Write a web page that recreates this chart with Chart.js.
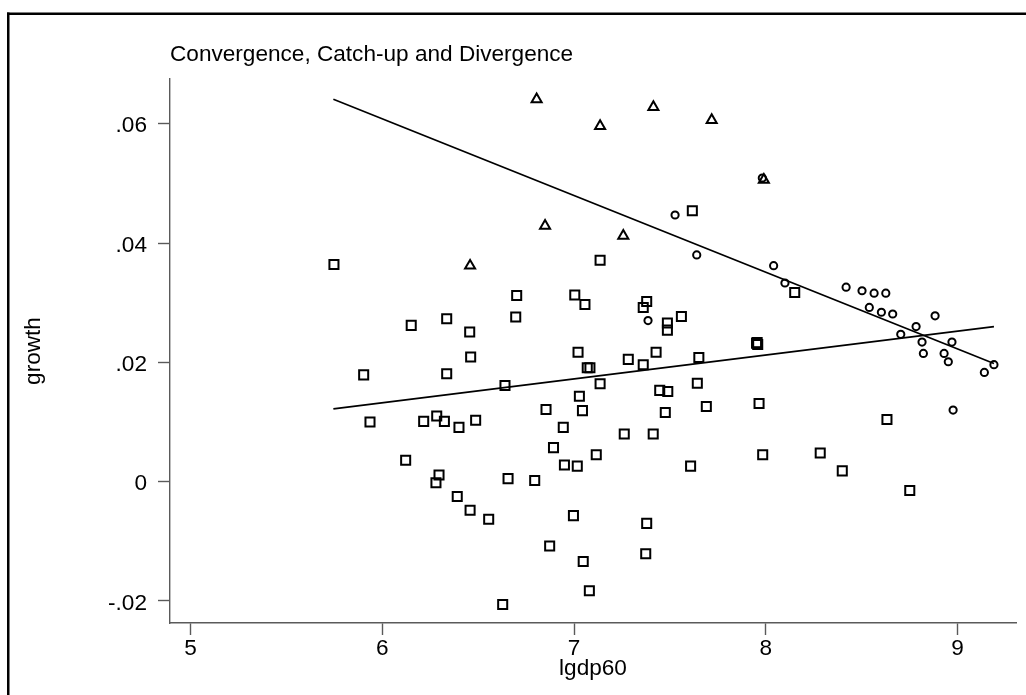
<!DOCTYPE html>
<html><head><meta charset="utf-8">
<script src="https://cdn.jsdelivr.net/npm/chart.js@4.4.1/dist/chart.umd.min.js"></script>
<style>html,body{margin:0;padding:0;background:#fff;overflow:hidden}canvas{display:block}</style>
</head><body>
<canvas id="c" width="1026" height="695"></canvas>
<script>
const chartTitle = 'Convergence, Catch-up and Divergence';
const xTitle = 'lgdp60';
const yTitle = 'growth';
const xTicks = [5, 6, 7, 8, 9];
const xTickLabels = ['5', '6', '7', '8', '9'];
const yTicks = [-0.02, 0, 0.02, 0.04, 0.06];
const yTickLabels = ['-.02', '0', '.02', '.04', '.06'];
const xRange = [4.893, 9.305];
const yRange = [-0.0237, 0.0675];

// squares
const squareX = [5.748, 6.701, 7.004, 7.057, 6.151, 6.336, 6.456, 6.696, 6.461, 5.903,
  6.336, 6.640, 7.021, 7.069, 7.083, 7.283, 7.361, 7.428, 7.651, 7.952,
  7.958, 7.955, 7.136, 7.447, 7.489, 7.643, 7.028, 6.854, 7.044, 7.476,
  7.690, 7.965, 8.632, 5.936, 6.216, 6.284, 6.324, 6.400, 6.487, 6.944,
  7.262, 7.413, 6.893, 7.116, 7.984, 8.284, 6.122, 6.950, 7.017, 7.608,
  8.399, 6.296, 6.280, 6.656, 6.795, 8.751, 6.391, 6.458, 6.555, 6.997,
  7.379, 6.873, 7.374, 7.048, 7.080, 6.628, 7.617, 7.136, 7.361, 7.379,
  7.487, 7.487, 7.560, 8.151];
const squareY = [0.0364, 0.0312, 0.0313, 0.0297, 0.0262, 0.0273, 0.0251, 0.0276, 0.0209, 0.0179,
  0.0181, 0.0161, 0.0217, 0.0191, 0.0191, 0.0205, 0.0196, 0.0217, 0.0208, 0.0232,
  0.0230, 0.0233, 0.0164, 0.0153, 0.0151, 0.0165, 0.0143, 0.0121, 0.0119, 0.0116,
  0.0126, 0.0131, 0.0104, 0.0100, 0.0101, 0.0110, 0.0101, 0.0091, 0.0103, 0.0091,
  0.0080, 0.0080, 0.0057, 0.0045, 0.0045, 0.0048, 0.0036, 0.0028, 0.0026, 0.0026,
  0.0018, 0.0011, -0.0002, 0.0005, 0.0002, -0.0015, -0.0025, -0.0048, -0.0063, -0.0057,
  -0.0070, -0.0108, -0.0121, -0.0134, -0.0183, -0.0206, 0.0454, 0.0371, 0.0292, 0.0302,
  0.0266, 0.0254, 0.0277, 0.0317];

// circles
const circleX = [7.982, 7.527, 7.640, 8.041, 8.100, 8.419, 8.502, 8.565, 8.626, 8.540,
  8.603, 8.662, 8.883, 8.784, 8.704, 8.815, 8.971, 8.822, 8.930, 8.952,
  9.190, 9.140, 7.386, 8.977];
const circleY = [0.0509, 0.0447, 0.0380, 0.0362, 0.0333, 0.0326, 0.0320, 0.0316, 0.0316, 0.0292,
  0.0284, 0.0281, 0.0278, 0.0260, 0.0247, 0.0234, 0.0234, 0.0215, 0.0215, 0.0201,
  0.0196, 0.0183, 0.0270, 0.0120];

// triangles
const triangleX = [6.805, 6.849, 6.458, 7.136, 7.414, 7.718, 7.990, 7.257];
const triangleY = [0.0641, 0.0429, 0.0362, 0.0596, 0.0628, 0.0606, 0.0506, 0.0412];

// fitted lines (end points)
const fitDownX = [5.745, 9.19];
const fitDownY = [0.0641, 0.0198];
const fitUpX = [5.745, 9.19];
const fitUpY = [0.0122, 0.0260];

const pts = (xs, ys) => xs.map((x, i) => ({ x: x, y: ys[i] }));
const FONT = '"Liberation Sans", Arial, Helvetica, sans-serif';
const FSIZE = 22.6;
const AXIS = '#5a5a5a';

const framePlugin = {
  id: 'frame',
  beforeDraw(chart) {
    const ctx = chart.ctx;
    ctx.save();
    ctx.fillStyle = '#fff';
    ctx.fillRect(0, 0, chart.width, chart.height);
    ctx.fillStyle = '#000';
    ctx.fillRect(7, 12.5, chart.width - 7, 2.5);
    ctx.fillRect(7, 12.5, 2.5, chart.height - 12.5);
    ctx.restore();
  },
  afterDraw(chart) {
    const ctx = chart.ctx;
    ctx.save();
    ctx.font = FSIZE + 'px ' + FONT;
    ctx.fillStyle = '#000';
    ctx.textAlign = 'left';
    ctx.textBaseline = 'alphabetic';
    ctx.fillText(chartTitle, chart.chartArea.left, 60.5);
    ctx.restore();
  }
};

Chart.defaults.font.family = FONT;
Chart.defaults.font.size = FSIZE;

new Chart(document.getElementById('c'), {
  type: 'scatter',
  data: {
    datasets: [
      { label: 'fit1', type: 'line', data: pts(fitDownX, fitDownY), borderColor: '#000', borderWidth: 1.8,
        pointRadius: 0, fill: false, tension: 0 },
      { label: 'fit2', type: 'line', data: pts(fitUpX, fitUpY), borderColor: '#000', borderWidth: 1.8,
        pointRadius: 0, fill: false, tension: 0 },
      { label: 'squares', data: pts(squareX, squareY), pointStyle: 'rect', pointRadius: 6.4,
        borderColor: '#000', borderWidth: 2, backgroundColor: 'rgba(0,0,0,0)' },
      { label: 'circles', data: pts(circleX, circleY), pointStyle: 'circle', pointRadius: 3.6,
        borderColor: '#000', borderWidth: 2, backgroundColor: 'rgba(0,0,0,0)' },
      { label: 'triangles', data: pts(triangleX, triangleY), pointStyle: 'triangle', pointRadius: 5.8,
        borderColor: '#000', borderWidth: 2, backgroundColor: 'rgba(0,0,0,0)' }
    ]
  },
  options: {
    responsive: false,
    animation: false,
    devicePixelRatio: 1,
    layout: { padding: { top: 79, right: 10, bottom: 0, left: 0 } },
    plugins: { legend: { display: false }, tooltip: { enabled: false } },
    events: [],
    scales: {
      x: {
        type: 'linear', position: 'bottom', min: xRange[0], max: xRange[1],
        afterBuildTicks: s => { s.ticks = xTicks.map(v => ({ value: v })); },
        afterFit: s => { s.height = 72; },
        grid: { drawOnChartArea: false, drawTicks: true, tickLength: 12, tickColor: AXIS, tickWidth: 1.4 },
        border: { display: true, color: AXIS, width: 1.4 },
        ticks: { color: '#000', padding: 0, maxRotation: 0, autoSkip: false,
          callback: (v, i) => xTickLabels[i] },
        title: { display: true, text: xTitle, color: '#000', padding: { top: 0, bottom: 13 } }
      },
      y: {
        type: 'linear', position: 'left', min: yRange[0], max: yRange[1],
        afterBuildTicks: s => { s.ticks = yTicks.map(v => ({ value: v })); },
        afterFit: s => { s.width = 170; },
        grid: { drawOnChartArea: false, drawTicks: true, tickLength: 12, tickColor: AXIS, tickWidth: 1.4 },
        border: { display: true, color: AXIS, width: 1.4 },
        ticks: { color: '#000', padding: 11, labelOffset: 2.5, autoSkip: false,
          callback: (v, i) => yTickLabels[i] },
        title: { display: true, text: yTitle, color: '#000', padding: { top: 20, bottom: 0 } }
      }
    }
  },
  plugins: [framePlugin]
});
</script>
</body></html>
